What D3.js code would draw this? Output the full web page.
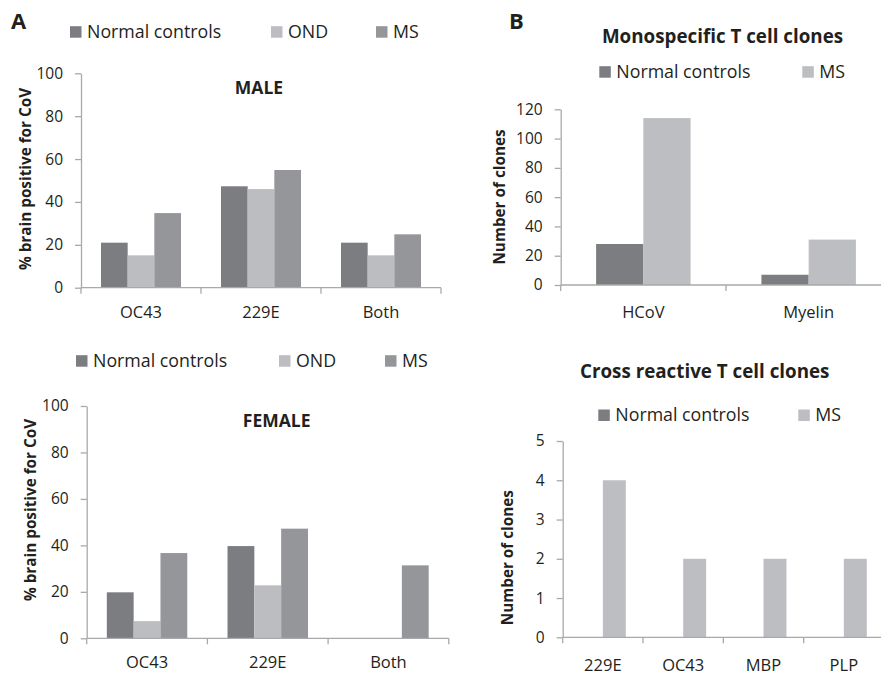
<!DOCTYPE html>
<html>
<head>
<meta charset="utf-8">
<script src="https://cdn.jsdelivr.net/npm/d3@7"></script>
<style>
  body { margin: 0; background: #fff; }
  svg text { font-family: "Open Sans", Lato, sans-serif; fill: #231f20; }
</style>
</head>
<body>
<script>
// data
const groupsA = ["Normal controls", "OND", "MS"];
const groupsB = ["Normal controls", "MS"];
const virusCats = ["OC43", "229E", "Both"];
const maleNormal = [21, 47.3, 21];
const maleOND = [15.1, 46, 15.1];
const maleMS = [34.8, 54.9, 24.9];
const femaleNormal = [19.8, 39.7, 0];
const femaleOND = [7.4, 22.8, 0];
const femaleMS = [36.7, 47.2, 31.4];
const monoCats = ["HCoV", "Myelin"];
const monoNormal = [28, 7];
const monoMS = [114, 31];
const crossCats = ["229E", "OC43", "MBP", "PLP"];
const crossNormal = [0, 0, 0, 0];
const crossMS = [4, 2, 2, 2];
const pctTicks = [0, 20, 40, 60, 80, 100];
const monoTicks = [0, 20, 40, 60, 80, 100, 120];
const crossTicks = [0, 1, 2, 3, 4, 5];

const colorsA = ["#7c7d81", "#bcbdc1", "#95969a"];
const colorsB = ["#7c7d81", "#bdbec2"];
const axisColor = "#a9a9a9";

const svg = d3.select("body").append("svg")
  .attr("width", 881)
  .attr("height", 676);

function drawPanel(p) {
  const g = svg.append("g");

  const x = d3.scaleBand()
    .domain(p.cats)
    .range([p.left, p.right]);
  const inner = d3.scaleBand()
    .domain(d3.range(p.series.length))
    .range([0, x.bandwidth()])
    .paddingOuter(0.75);
  const y = d3.scaleLinear()
    .domain([0, d3.max(p.ticks)])
    .range([p.bottom, p.top]);

  // bars
  p.series.forEach((vals, i) => {
    g.append("g").selectAll("rect")
      .data(vals.map((v, j) => ({ cat: p.cats[j], v: v })))
      .join("rect")
      .attr("x", d => x(d.cat) + inner(i))
      .attr("y", d => y(d.v))
      .attr("width", inner.bandwidth())
      .attr("height", d => y(0) - y(d.v))
      .attr("fill", p.colors[i]);
  });

  // y axis
  const yAxis = g.append("g")
    .attr("transform", `translate(${p.left},0)`)
    .call(d3.axisLeft(y).tickValues(p.ticks).tickFormat(d3.format("d"))
      .tickSize(6).tickSizeOuter(0).tickPadding(12));
  yAxis.selectAll("line, path").attr("stroke", axisColor).attr("stroke-width", 1.3);
  yAxis.selectAll("text").attr("font-size", 15.5).attr("font-family", "Open Sans").attr("fill", "#231f20");

  // x axis line + boundary ticks
  const xa = g.append("g");
  xa.append("line")
    .attr("x1", p.left).attr("x2", p.right)
    .attr("y1", y(0)).attr("y2", y(0))
    .attr("stroke", axisColor).attr("stroke-width", 1.3);
  xa.selectAll("line.tk")
    .data(p.cats.map(c => x(c)).concat([p.right]))
    .join("line")
    .attr("class", "tk")
    .attr("x1", d => d).attr("x2", d => d)
    .attr("y1", y(0)).attr("y2", y(0) + 6)
    .attr("stroke", axisColor).attr("stroke-width", 1.3);
  xa.selectAll("text")
    .data(p.cats)
    .join("text")
    .attr("x", d => x(d) + x.bandwidth() / 2)
    .attr("y", y(0) + p.labelDy)
    .attr("text-anchor", "middle")
    .attr("font-size", 16.5)
    .text(d => d);

  // y title
  g.append("text")
    .attr("transform", `translate(${p.yTitleX},${p.yTitleY}) rotate(-90)`)
    .attr("text-anchor", "middle")
    .attr("font-size", 15.3)
    .attr("font-weight", "bold")
    .text(p.yTitle);

  // legend
  const lg = g.append("g");
  p.names.forEach((n, i) => {
    lg.append("rect")
      .attr("x", p.legendX[i]).attr("y", p.legendY - 11.5)
      .attr("width", 11.5).attr("height", 11.5)
      .attr("fill", p.colors[i]);
    lg.append("text")
      .attr("x", p.legendX[i] + 17).attr("y", p.legendY)
      .attr("font-size", 17.8)
      .text(n);
  });

  // chart title
  g.append("text")
    .attr("x", p.titleX).attr("y", p.titleY)
    .attr("text-anchor", "middle")
    .attr("font-size", p.titleSize)
    .attr("font-weight", "bold")
    .text(p.title);
}

drawPanel({
  cats: virusCats, series: [maleNormal, maleOND, maleMS], names: groupsA, colors: colorsA,
  ticks: pctTicks, left: 81, right: 441, top: 73.3, bottom: 287.7, labelDy: 30.5,
  yTitle: "% brain positive for CoV", yTitleX: 31, yTitleY: 179,
  legendX: [70, 271, 376], legendY: 37.7,
  title: "MALE", titleX: 259, titleY: 94.3, titleSize: 17.5
});

drawPanel({
  cats: virusCats, series: [femaleNormal, femaleOND, femaleMS], names: groupsA, colors: colorsA,
  ticks: pctTicks, left: 86.7, right: 448.8, top: 406, bottom: 638.3, labelDy: 30,
  yTitle: "% brain positive for CoV", yTitleX: 36, yTitleY: 510,
  legendX: [76, 279, 385], legendY: 366.7,
  title: "FEMALE", titleX: 276.7, titleY: 426.7, titleSize: 17.5
});

drawPanel({
  cats: monoCats, series: [monoNormal, monoMS], names: groupsB, colors: colorsB,
  ticks: monoTicks, left: 560.7, right: 891.3, top: 109.3, bottom: 285, labelDy: 33.3,
  yTitle: "Number of clones", yTitleX: 505, yTitleY: 197,
  legendX: [599.3, 802.3], legendY: 77.7,
  title: "Monospecific T cell clones", titleX: 722.5, titleY: 42.7, titleSize: 18.8
});

drawPanel({
  cats: crossCats, series: [crossNormal, crossMS], names: groupsB, colors: colorsB,
  ticks: crossTicks, left: 562.7, right: 884, top: 441, bottom: 637.3, labelDy: 33.4,
  yTitle: "Number of clones", yTitleX: 513, yTitleY: 557.7,
  legendX: [598.3, 798.3], legendY: 421,
  title: "Cross reactive T cell clones", titleX: 704.7, titleY: 378.3, titleSize: 18.8
});

// panel letters
svg.append("text").attr("x", 11).attr("y", 29).attr("font-size", 22).attr("font-weight", "bold").text("A");
svg.append("text").attr("x", 509).attr("y", 29.3).attr("font-size", 22).attr("font-weight", "bold").text("B");
</script>
</body>
</html>
